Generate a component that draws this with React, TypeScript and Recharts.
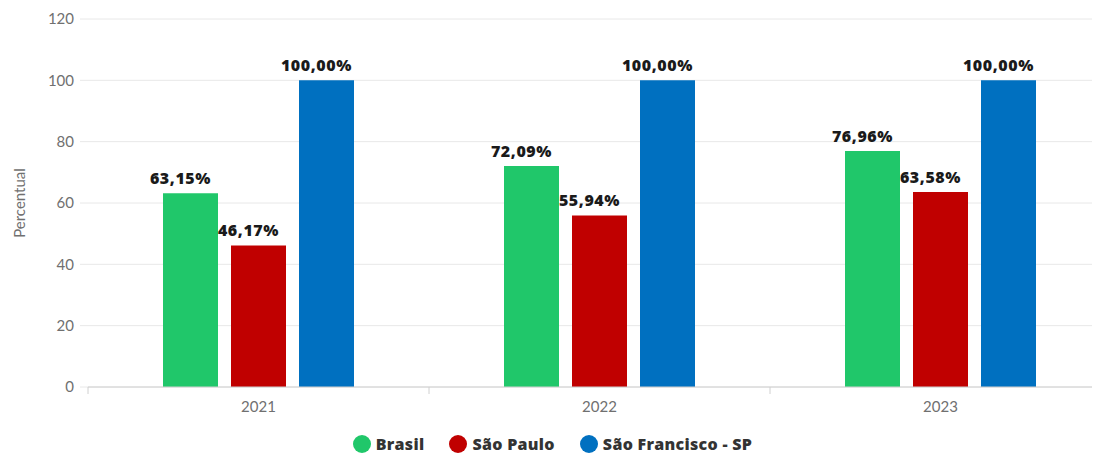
/** @jsxImportSource react */
import {
  BarChart,
  Bar,
  XAxis,
  YAxis,
  CartesianGrid,
  Legend,
  LabelList,
} from "recharts";

const years = ["2021", "2022", "2023"];
const brasil = [63.15, 72.09, 76.96];
const saoPaulo = [46.17, 55.94, 63.58];
const saoFrancisco = [100.0, 100.0, 100.0];
const yTicks = [0, 20, 40, 60, 80, 100, 120];

const series = [
  { key: "brasil", name: "Brasil", color: "#20C76A" },
  { key: "saoPaulo", name: "São Paulo", color: "#C00000" },
  { key: "saoFrancisco", name: "São Francisco - SP", color: "#0070C0" },
];

const data = years.map((year, i) => ({
  year,
  brasil: brasil[i],
  saoPaulo: saoPaulo[i],
  saoFrancisco: saoFrancisco[i],
}));

const FONT = "Lato, 'Open Sans', sans-serif";
const BOLD_FONT = "'Open Sans', Lato, sans-serif";
const CHART_W = 1120;
const Y_W = 88;
const M_RIGHT = 9;
const BAND = (CHART_W - Y_W - M_RIGHT) / years.length;

const fmt = (v: any) => `${Number(v).toFixed(2).replace(".", ",")}%`;

// value labels sit a bit left of the bar centre, like the original
const ValueLabel = ({ x, y, width, value }: any) => (
  <text
    x={x + width / 2 - 10}
    y={y - 9}
    textAnchor="middle"
    fill="#1a1a1a"
    fontSize={16}
    fontWeight={800}
    letterSpacing={0.6}
    fontFamily={BOLD_FONT}
  >
    {fmt(value)}
  </text>
);

const YearTick = ({ x, y, payload }: any) => (
  <g>
    <line x1={x - BAND / 2} x2={x - BAND / 2} y1={y - 8} y2={y - 1} stroke="#d0d0d0" />
    <text
      x={x}
      y={y + 17}
      textAnchor="middle"
      fill="#707070"
      fontSize={15}
      fontFamily={FONT}
    >
      {payload.value}
    </text>
  </g>
);

const LegendContent = () => (
  <div
    style={{
      display: "flex",
      justifyContent: "center",
      gap: 25,
      fontFamily: BOLD_FONT,
      paddingRight: 6,
      paddingTop: 7,
    }}
  >
    {series.map((s) => (
      <div key={s.key} style={{ display: "flex", alignItems: "center", gap: 5 }}>
        <div
          style={{ width: 18, height: 18, borderRadius: "50%", background: s.color }}
        />
        <span style={{ fontSize: 16, fontWeight: 800, color: "#333", letterSpacing: 0.3, lineHeight: "20px" }}>
          {s.name}
        </span>
      </div>
    ))}
  </div>
);

export default function App() {
  return (
    <div
      style={{
        marginTop: -8,
        marginLeft: -8,
        width: 1100,
        height: 454,
        overflow: "hidden",
        background: "#fff",
      }}
    >
      <BarChart
        width={CHART_W}
        height={454}
        data={data}
        margin={{ top: 19, right: M_RIGHT, left: 0, bottom: 0 }}
        barSize={55}
        barGap={13}
      >
        <CartesianGrid vertical={false} stroke="#e8e8e8" />
        <XAxis
          dataKey="year"
          tickLine={false}
          axisLine={{ stroke: "#d0d0d0" }}
          tick={<YearTick />}
          height={40}
        />
        <YAxis
          width={Y_W}
          domain={[0, 120]}
          ticks={yTicks}
          axisLine={false}
          tickLine={{ stroke: "#e8e8e8" }}
          tickSize={8}
          tickMargin={6}
          tick={{ fill: "#707070", fontSize: 15, fontFamily: FONT }}
          label={{
            value: "Percentual",
            angle: -90,
            position: "insideLeft",
            offset: 20,
            style: { fill: "#707070", fontSize: 15, fontFamily: FONT, textAnchor: "middle" },
          }}
        />
        <Legend verticalAlign="bottom" height={27} content={<LegendContent />} />
        {series.map((s) => (
          <Bar
            key={s.key}
            dataKey={s.key}
            name={s.name}
            fill={s.color}
            isAnimationActive={false}
          >
            <LabelList dataKey={s.key} content={<ValueLabel />} />
          </Bar>
        ))}
      </BarChart>
    </div>
  );
}
